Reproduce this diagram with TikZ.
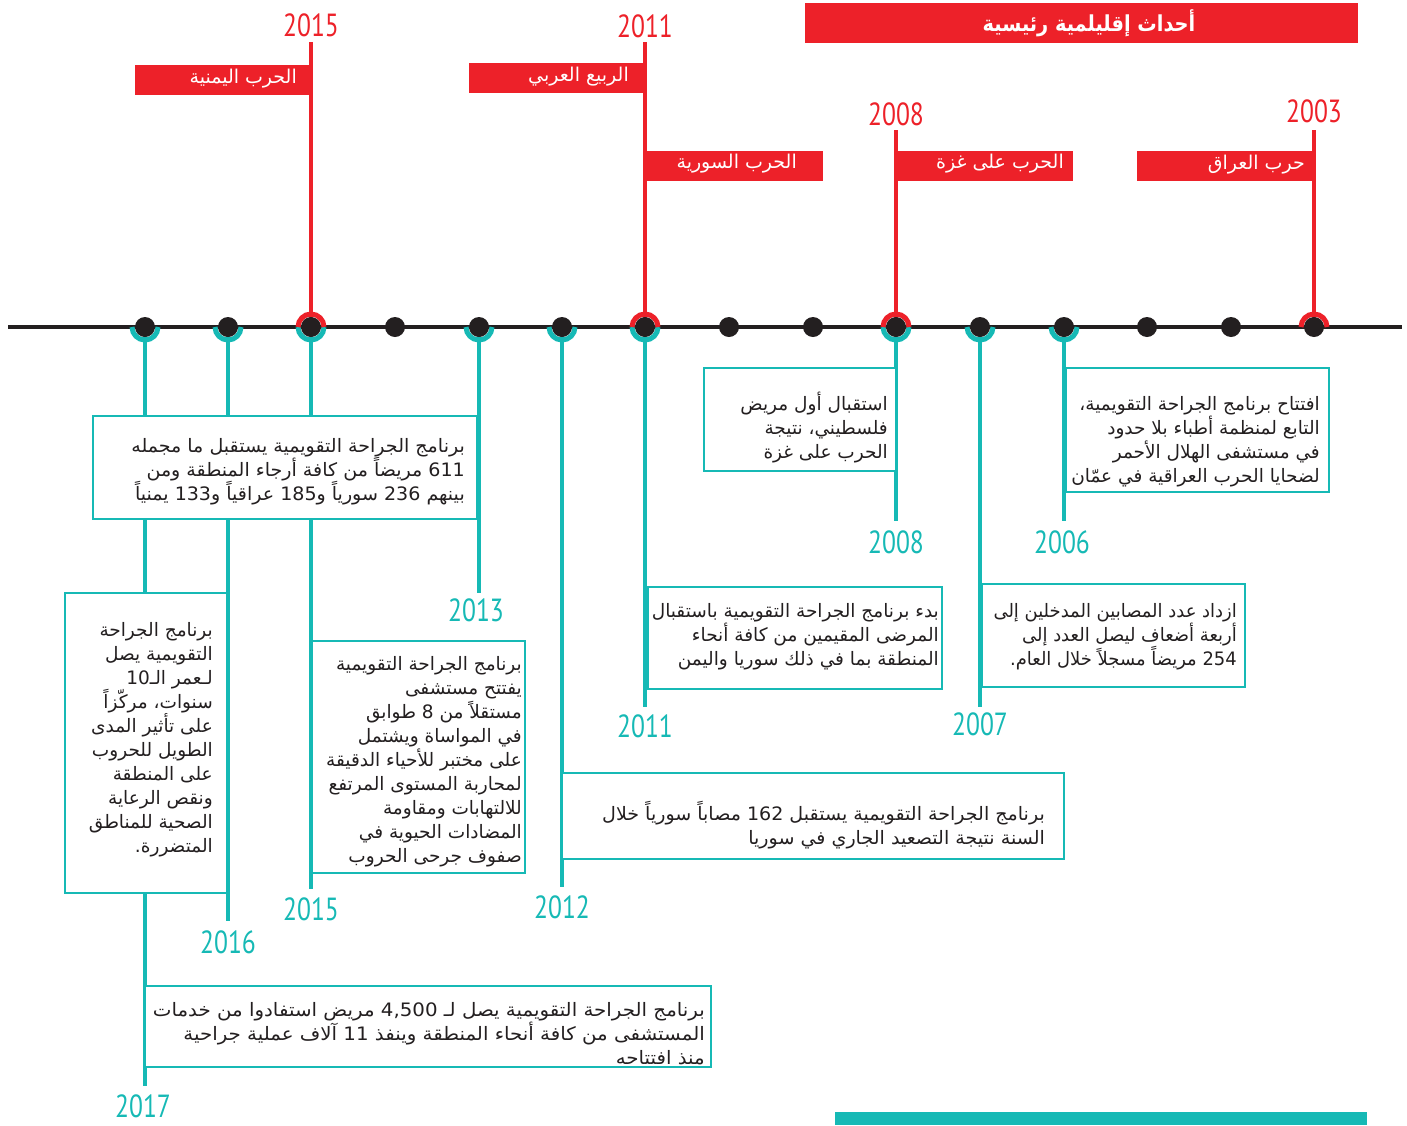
\documentclass[tikz,border=0pt]{standalone}
\usepackage{fontspec}
\TeXXeTstate=1
\newfontfamily\arabicfont[Script=Arabic,FakeStretch=1.0]{DejaVu Sans}
\newfontfamily\arabicnarrow[Script=Arabic,FakeStretch=0.97]{DejaVu Sans}
\newfontfamily\arabicmid[Script=Arabic,FakeStretch=1.03]{DejaVu Sans}
\newfontfamily\arabicwide[Script=Arabic,FakeStretch=1.07]{DejaVu Sans}
\newfontfamily\arabicbold[Script=Arabic,FakeStretch=0.88]{DejaVu Sans Bold}
\newfontfamily\yearfont[FakeStretch=0.8]{PT Sans}
\definecolor{mred}{HTML}{ED2129}
\definecolor{mteal}{HTML}{16B9B5}
\definecolor{mink}{HTML}{231F20}
\newcommand\AR[1]{\beginR #1\endR}
\tikzset{
 tline/.style={draw=mteal, line width=4},
 rline/.style={draw=mred, line width=4},
 tbox/.style={draw=mteal, line width=2.5, fill=white, inner sep=0, rectangle},
 rbox/.style={fill=mred, inner sep=0, rectangle, minimum height=30},
 rlab/.style={text=white, font=\arabicfont\fontsize{19}{22}\selectfont, inner sep=0, anchor=east},
 body/.style={text=mink, font=\arabicfont\fontsize{18.5}{24}\selectfont, align=right, inner sep=0, anchor=east},
 bodymid/.style={body, font=\arabicmid\fontsize{18.5}{24}\selectfont},
 bodywide/.style={body, font=\arabicwide\fontsize{18.5}{24}\selectfont},
 bodynarrow/.style={body, font=\arabicnarrow\fontsize{18.5}{24}\selectfont},
 yr/.style={text=mred, font=\yearfont\fontsize{32}{32}\selectfont, inner sep=0},
 yt/.style={yr, text=mteal},
 dotn/.style={circle, fill=mink, minimum size=20, inner sep=0},
}
\begin{document}
\begin{tikzpicture}[x=1pt,y=-1pt]
\useasboundingbox (0,0) rectangle (1407,1125);
% dot positions
\foreach \i/\x in {1/145,2/228,3/311,4/395,5/479,6/562,7/645,8/729,9/813,10/896,11/980,12/1064,13/1147,14/1231,15/1314}
  \coordinate (d\i) at (\x,327);
% teal line ends
\coordinate (e1) at (145,1086);
\coordinate (e2) at (228,921);
\coordinate (e3) at (311,889);
\coordinate (e5) at (479,593);
\coordinate (e6) at (562,887);
\coordinate (e7) at (645,707);
\coordinate (e10) at (896,521);
\coordinate (e11) at (980,707);
\coordinate (e12) at (1064,521);
% red line tops
\coordinate (t3) at (311,42);
\coordinate (t7) at (645,42);
\coordinate (t10) at (896,130);
\coordinate (t15) at (1314,130);
\foreach \i in {1,2,3,5,6,7,10,11,12} \draw[tline] (d\i) -- (e\i);
\foreach \i in {3,7,10,15} \draw[rline] (t\i) -- (d\i);

% title
\node[fill=mred, inner sep=0, minimum width=553, minimum height=40] (title) at (1081.5,23) {};
\node[text=white, font=\arabicbold\fontsize{22}{24}\selectfont, inner sep=0] (titletext) at (1089,23) {\AR{أحداث إقليلمية رئيسية}};

% red label boxes
\node[rbox, minimum width=176] (yemen) at (223,80) {};
\node[rlab] (yemenT) at (297,79) {\AR{الحرب اليمنية}};
\node[rbox, minimum width=176] (spring) at (557,78) {};
\node[rlab] (springT) at (629,77) {\AR{الربيع العربي}};
\node[rbox, minimum width=178] (syria) at (734,165.5) {};
\node[rlab] (syriaT) at (797,164) {\AR{الحرب السورية}};
\node[rbox, minimum width=177] (gaza) at (984.5,165.5) {};
\node[rlab] (gazaT) at (1064,164) {\AR{الحرب على غزة}};
\node[rbox, minimum width=177] (iraq) at (1225.5,165.5) {};
\node[rlab] (iraqT) at (1305,165) {\AR{حرب العراق}};

% red years
\node[yr] (y2015r) at (311,25) {2015};
\node[yr] (y2011r) at (645,26) {2011};
\node[yr] (y2008r) at (896,114) {2008};
\node[yr] (y2003r) at (1314,111) {2003};

% teal boxes
\node[tbox, minimum width=384, minimum height=103] (bA) at (285,467.5) {};
\node[tbox, minimum width=162, minimum height=300] (bC) at (146,743) {};
\node[tbox, minimum width=213, minimum height=232] (bD) at (418.5,757) {};
\node[tbox, minimum width=502, minimum height=86] (bE) at (813,816) {};
\node[tbox, minimum width=294, minimum height=102] (bF) at (795,638) {};
\node[tbox, minimum width=566, minimum height=81] (bG) at (428,1026.5) {};
\node[tbox, minimum width=192, minimum height=103] (bH) at (800,419.5) {};
\node[tbox, minimum width=263, minimum height=103] (bI) at (1113.5,635.5) {};
\node[tbox, minimum width=263, minimum height=124] (bJ) at (1197.5,430) {};

% texts
\node[bodymid] (tA) at (465,472) {\AR{برنامج الجراحة التقويمية يستقبل ما مجمله}\\\AR{611 مريضاً من كافة أرجاء المنطقة ومن}\\\AR{بينهم 236 سورياً و185 عراقياً و133 يمنياً}};
\node[body] (tC) at (213,740) {\AR{برنامج الجراحة}\\\AR{التقويمية يصل}\\\AR{لـعمر الـ10}\\\AR{سنوات، مركّزاً}\\\AR{على تأثير المدى}\\\AR{الطويل للحروب}\\\AR{على المنطقة}\\\AR{ونقص الرعاية}\\\AR{الصحية للمناطق}\\\AR{المتضررة.}};
\node[body] (tD) at (522,762) {\AR{برنامج الجراحة التقويمية}\\\AR{يفتتح مستشفى}\\\AR{مستقلاً من 8 طوابق}\\\AR{في المواساة ويشتمل}\\\AR{على مختبر للأحياء الدقيقة}\\\AR{لمحاربة المستوى المرتفع}\\\AR{للالتهابات ومقاومة}\\\AR{المضادات الحيوية في}\\\AR{صفوف جرحى الحروب}};
\node[bodymid] (tE) at (1045,825) {\AR{برنامج الجراحة التقويمية يستقبل 162 مصاباً سورياً خلال}\\\AR{السنة نتيجة التصعيد الجاري في سوريا}};
\node[body] (tF) at (939,637) {\AR{بدء برنامج الجراحة التقويمية باستقبال}\\\AR{المرضى المقيمين من كافة أنحاء}\\\AR{المنطقة بما في ذلك سوريا واليمن}};
\node[bodywide] (tG) at (705,1034) {\AR{برنامج الجراحة التقويمية يصل لـ 4,500 مريض استفادوا من خدمات}\\\AR{المستشفى من كافة أنحاء المنطقة وينفذ 11 آلاف عملية جراحية}\\\AR{منذ افتتاحه}};
\node[body] (tH) at (888,428) {\AR{استقبال أول مريض}\\\AR{فلسطيني، نتيجة}\\\AR{الحرب على غزة}};
\node[bodynarrow] (tI) at (1237,637) {\AR{ازداد عدد المصابين المدخلين إلى}\\\AR{أربعة أضعاف ليصل العدد إلى}\\\AR{254 مريضاً مسجلاً خلال العام.}};
\node[body] (tJ) at (1320,442) {\AR{افتتاح برنامج الجراحة التقويمية،}\\\AR{التابع لمنظمة أطباء بلا حدود}\\\AR{في مستشفى الهلال الأحمر}\\\AR{لضحايا الحرب العراقية في عمّان}};

% teal years
\node[yt] (y2017) at (143,1106) {2017};
\node[yt] (y2016) at (228,942) {2016};
\node[yt] (y2015) at (311,909) {2015};
\node[yt] (y2013) at (476,610) {2013};
\node[yt] (y2012) at (562,907) {2012};
\node[yt] (y2011) at (645,726) {2011};
\node[yt] (y2008) at (896,542) {2008};
\node[yt] (y2007) at (980,724) {2007};
\node[yt] (y2006) at (1062,542) {2006};

% bottom bar
\node[fill=mteal, inner sep=0, minimum width=532, minimum height=13, anchor=north west] (bar) at (835,1112) {};

% timeline
\coordinate (L) at (8,327);
\coordinate (R) at (1402,327);
\draw[mink, line width=4.5] (L) -- (R);
% rings
\foreach \i in {1,2,3,5,6,7,10,11,12}
  \draw[mteal, line width=5] ([xshift=-13pt]d\i) arc[start angle=180, end angle=360, radius=13pt];
\foreach \i in {3,7,10,15}
  \draw[mred, line width=5] ([xshift=-13pt]d\i) arc[start angle=180, end angle=0, radius=13pt];
% dots
\foreach \i in {1,...,15} \node[dotn] (dot\i) at (d\i) {};
\end{tikzpicture}
\end{document}
